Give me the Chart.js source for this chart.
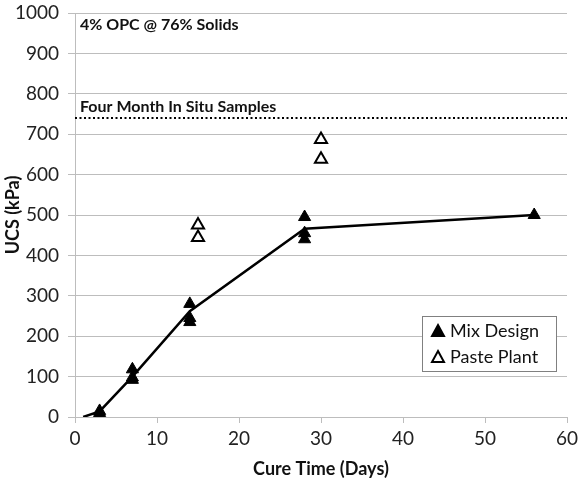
<!DOCTYPE html>
<html>
<head>
<meta charset="utf-8">
<script src="https://cdn.jsdelivr.net/npm/chart.js@4"></script>
<style>
  html, body { margin: 0; padding: 0; background: #fff; }
  #box { width: 579px; height: 480px; }
</style>
</head>
<body>
<div id="box"><canvas id="ucsChart" width="579" height="480"></canvas></div>
<script>
// cure time (days) and UCS (kPa)
let mixDays = [3, 3, 7, 7, 7, 14, 14, 14, 28, 28, 28, 56];
let mixUcs = [15, 10, 118, 98, 92, 280, 245, 235, 495, 455, 440, 500];

let plantDays = [15, 15, 30, 30];
let plantUcs = [475, 444, 687, 638];

// trend line through the mix design results
let trendDays = [1, 3, 7, 14, 28, 56];
let trendUcs = [0, 14, 100, 262, 466, 500];

// four month in situ level
let inSituDays = [0, 60];
let inSituUcs = [740, 740];

let xTicks = [0, 10, 20, 30, 40, 50, 60];
let yTicks = [0, 100, 200, 300, 400, 500, 600, 700, 800, 900, 1000];

let toPoints = function (xs, ys) {
    return xs.map(function (x, i) { return { x: x, y: ys[i] }; });
};

let fontName = 'Lato, "Open Sans", sans-serif';

let notesPlugin = {
    id: 'notes',
    afterDatasetsDraw: function (chart) {
        let ctx = chart.ctx;
        let xs = chart.scales.x;
        let ys = chart.scales.y;
        ctx.save();
        ctx.fillStyle = '#111';
        ctx.textBaseline = 'middle';
        ctx.textAlign = 'left';
        ctx.font = 'bold 16px ' + fontName;
        ctx.fillText('4% OPC @ 76% Solids', xs.left + 5, ys.getPixelForValue(970));
        ctx.fillText('Four Month In Situ Samples', xs.left + 5, ys.getPixelForValue(inSituUcs[0]) - 11);

        // legend box
        let bx = 422, by = 316, bw = 134, bh = 55;
        ctx.fillStyle = '#fff';
        ctx.fillRect(bx, by, bw, bh);
        ctx.strokeStyle = '#808080';
        ctx.lineWidth = 1;
        ctx.strokeRect(bx + 0.5, by + 0.5, bw, bh);

        let items = [
            { label: 'Mix Design', fill: '#000' },
            { label: 'Paste Plant', fill: '#fff' }
        ];
        items.forEach(function (it, i) {
            let cy = by + 15 + i * 26;
            ctx.fillStyle = it.fill;
            ctx.strokeStyle = '#000';
            ctx.lineWidth = 2;
            ctx.beginPath();
            ctx.moveTo(bx + 16, cy - 6);
            ctx.lineTo(bx + 22, cy + 5);
            ctx.lineTo(bx + 10, cy + 5);
            ctx.closePath();
            ctx.fill();
            ctx.stroke();
            ctx.fillStyle = '#111';
            ctx.font = '18px ' + fontName;
            ctx.fillText(it.label, bx + 28, cy);
        });
        ctx.restore();
    }
};

let ctx = document.getElementById('ucsChart').getContext('2d');

window.ucsChart = new Chart(ctx, {
    type: 'scatter',
    data: {
        datasets: [
            {
                label: 'trend',
                data: toPoints(trendDays, trendUcs),
                showLine: true,
                borderColor: '#000',
                borderWidth: 2.5,
                pointRadius: 0,
                order: 0
            },
            {
                label: 'In Situ',
                data: toPoints(inSituDays, inSituUcs),
                showLine: true,
                borderColor: '#000',
                borderWidth: 2,
                borderDash: [2, 2.5],
                pointRadius: 0,
                order: 1
            },
            {
                label: 'Mix Design',
                data: toPoints(mixDays, mixUcs),
                pointStyle: 'triangle',
                pointRadius: 7,
                backgroundColor: '#000',
                borderColor: '#000',
                borderWidth: 1,
                order: 2
            },
            {
                label: 'Paste Plant',
                data: toPoints(plantDays, plantUcs),
                pointStyle: 'triangle',
                pointRadius: 7,
                backgroundColor: '#fff',
                borderColor: '#000',
                borderWidth: 2,
                order: 3
            }
        ]
    },
    options: {
        responsive: false,
        animation: false,
        layout: { padding: { top: 13, right: 12, left: 0, bottom: 0 } },
        plugins: {
            legend: { display: false },
            tooltip: { enabled: false }
        },
        scales: {
            x: {
                type: 'linear',
                min: 0,
                max: 60,
                afterBuildTicks: function (scale) {
                    scale.ticks = xTicks.map(function (v) { return { value: v }; });
                },
                afterFit: function (scale) {
                    scale.height = 63;
                    scale.paddingLeft = 0;
                    scale.paddingRight = 0;
                },
                grid: {
                    drawOnChartArea: false,
                    drawTicks: true,
                    tickLength: 6,
                    color: '#bdbdbd'
                },
                border: { color: '#bdbdbd' },
                ticks: {
                    color: '#222',
                    padding: 4,
                    font: { family: fontName, size: 19 },
                    callback: function (v) { return String(v); }
                },
                title: {
                    display: true,
                    text: 'Cure Time (Days)',
                    color: '#111',
                    padding: { top: 2, bottom: 0 },
                    font: { family: fontName, size: 18, weight: 'bold' }
                }
            },
            y: {
                type: 'linear',
                min: 0,
                max: 1000,
                afterBuildTicks: function (scale) {
                    scale.ticks = yTicks.map(function (v) { return { value: v }; });
                },
                afterFit: function (scale) {
                    scale.width = 75;
                    scale.paddingTop = 0;
                    scale.paddingBottom = 0;
                },
                grid: {
                    color: '#bdbdbd',
                    tickLength: 7
                },
                border: { color: '#bdbdbd' },
                ticks: {
                    color: '#222',
                    padding: 9,
                    font: { family: fontName, size: 19 },
                    callback: function (v) { return String(v); }
                },
                title: {
                    display: true,
                    text: 'UCS (kPa)',
                    color: '#111',
                    padding: { top: 2, bottom: 0 },
                    font: { family: fontName, size: 18, weight: 'bold' }
                }
            }
        }
    },
    plugins: [notesPlugin]
});
</script>
</body>
</html>
